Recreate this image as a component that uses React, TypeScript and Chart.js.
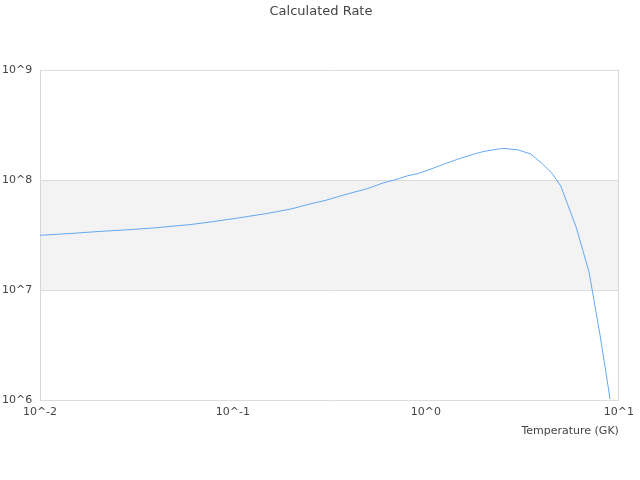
import React, { useEffect, useRef } from "react";
import { Chart, registerables } from "chart.js";

Chart.register(...registerables);

// Temperature grid (GK)
const temperatures = [
  0.01, 0.015, 0.02, 0.03, 0.04, 0.05, 0.06, 0.07, 0.08, 0.09, 0.1, 0.15, 0.2,
  0.25, 0.3, 0.4, 0.5, 0.6, 0.7, 0.8, 0.9, 1, 1.25, 1.5, 1.75, 2, 2.5, 3, 3.5,
  4, 4.5, 5, 6, 7, 8, 9,
];

// Calculated rate values
const rates = [
  3.14e7, 3.28e7, 3.4e7, 3.55e7, 3.68e7, 3.82e7, 3.93e7, 4.07e7, 4.2e7, 4.33e7,
  4.44e7, 4.96e7, 5.45e7, 6.05e7, 6.51e7, 7.54e7, 8.37e7, 9.4e7, 1.01e8,
  1.09e8, 1.14e8, 1.21e8, 1.4e8, 1.57e8, 1.71e8, 1.82e8, 1.94e8, 1.88e8,
  1.72e8, 1.41e8, 1.15e8, 8.81e7, 3.74e7, 1.46e7, 3.82e6, 1.02e6,
];

const xTickValues = [0.01, 0.1, 1, 10];
const xTickLabels = ["10^-2", "10^-1", "10^0", "10^1"];
const yTickValues = [1e6, 1e7, 1e8, 1e9];
const yTickLabels = ["10^6", "10^7", "10^8", "10^9"];
const bandRange = [1e7, 1e8];

const bandPlugin = {
  id: "band",
  beforeDraw(chart: any) {
    const { ctx, chartArea, scales } = chart;
    const yTop = scales.y.getPixelForValue(bandRange[1]);
    const yBottom = scales.y.getPixelForValue(bandRange[0]);
    ctx.save();
    ctx.fillStyle = "#f3f3f3";
    ctx.fillRect(
      chartArea.left,
      yTop,
      chartArea.right - chartArea.left,
      yBottom - yTop
    );
    ctx.restore();
  },
};

export default function App() {
  const canvasRef = useRef<HTMLCanvasElement | null>(null);

  useEffect(() => {
    if (!canvasRef.current) return;
    Chart.defaults.font.family = "DejaVu Sans";
    Chart.defaults.color = "#444";

    const chart = new Chart(canvasRef.current, {
      type: "scatter",
      data: {
        datasets: [
          {
            data: temperatures.map((t, i) => ({ x: t, y: rates[i] })),
            showLine: true,
            borderColor: "#63a9f2",
            borderWidth: 1,
            pointRadius: 0,
            tension: 0,
          },
        ],
      },
      plugins: [bandPlugin],
      options: {
        animation: false,
        responsive: false,
        devicePixelRatio: 1,
        layout: { padding: { left: 2, right: 0, top: 0, bottom: 38 } },
        plugins: {
          legend: { display: false },
          tooltip: { enabled: false },
          title: {
            display: true,
            text: "Calculated Rate",
            color: "#444",
            font: { family: "DejaVu Sans", size: 13, weight: "normal" },
            padding: { top: 4, bottom: 50.4 },
          },
        },
        scales: {
          x: {
            type: "logarithmic",
            min: 0.01,
            max: 10,
            afterBuildTicks: (axis: any) => {
              axis.ticks = xTickValues.map((v) => ({ value: v }));
            },
            afterFit: (axis: any) => {
              axis.height = 42;
            },
            ticks: {
              autoSkip: false,
              maxRotation: 0,
              padding: 6,
              color: "#444",
              font: { size: 11 },
              callback: (_v: any, i: number) => xTickLabels[i],
            },
            grid: {
              drawTicks: false,
              color: (ctx: any) =>
                ctx.index === 0 || ctx.index === xTickValues.length - 1
                  ? "#d6d6d6"
                  : "rgba(0,0,0,0)",
            },
            border: { display: false },
            title: {
              display: true,
              text: "Temperature (GK)",
              align: "end",
              color: "#444",
              font: { size: 11 },
              padding: { top: 4, bottom: 4 },
            },
          },
          y: {
            type: "logarithmic",
            min: 1e6,
            max: 1e9,
            afterBuildTicks: (axis: any) => {
              axis.ticks = yTickValues.map((v) => ({ value: v }));
            },
            afterFit: (axis: any) => {
              axis.width = 38;
            },
            ticks: {
              autoSkip: false,
              crossAlign: "far",
              color: "#444",
              font: { size: 11 },
              callback: (_v: any, i: number) => yTickLabels[i],
            },
            grid: {
              drawTicks: false,
              color: "#dcdcdc",
            },
            border: { display: false },
          },
          yRight: {
            type: "linear",
            position: "right",
            display: true,
            afterFit: (axis: any) => {
              axis.width = 20;
            },
            ticks: { display: false },
            grid: { display: false, drawTicks: false },
            border: { display: false },
          },
        },
      } as any,
    });

    return () => chart.destroy();
  }, []);

  return (
    <div style={{ position: "absolute", left: 0, top: 0, width: 640, height: 480 }}>
      <canvas ref={canvasRef} width={640} height={480} />
    </div>
  );
}
